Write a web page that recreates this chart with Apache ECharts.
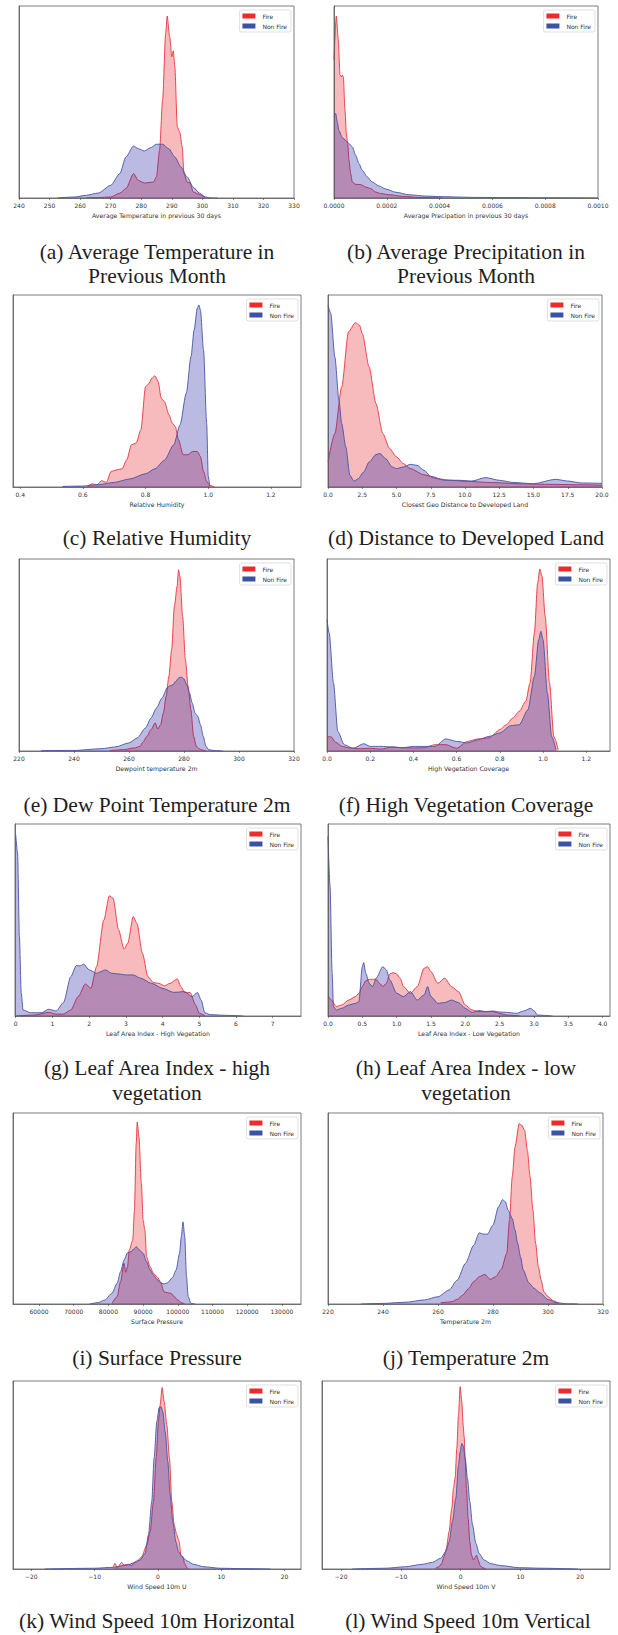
<!DOCTYPE html>
<html lang="en">
<head>
    <meta charset="UTF-8">
    <title>Fire vs Non Fire feature densities</title>
    <script src="https://cdn.jsdelivr.net/npm/echarts@6/dist/echarts.min.js"></script>
    <style>
        * { margin: 0; padding: 0; box-sizing: border-box; }
        body { background: #ffffff; }
        #chart { width: 618px; height: 1635px; }
    </style>
</head>
<body>
    <div id="chart"></div>
    <script type="text/javascript">
        // densities, in arbitrary units (axes top = 100)
        const Y_MAX = 100;

        // (a) average temperature in previous 30 days
        const aFireX = [262, 266, 270, 273, 275, 277.5, 279, 281, 284, 285, 286, 287, 288, 288.5, 289.3, 290, 290.5, 291, 291.8, 292.6, 293.4, 294, 295, 296, 297, 299, 301];
        const aFireY = [0, 0.2, 0.5, 2.5, 4.9, 12.7, 9.2, 7.8, 8.3, 11, 24.9, 51, 85.7, 94.8, 84, 73.6, 76.7, 68.3, 37, 34.4, 26.6, 12.7, 8.3, 7.8, 3.1, 1.9, 0.2];
        const aNonX = [252.5, 258, 262, 266, 270, 273, 275, 277.5, 279, 281, 283, 285, 287, 289, 291, 293, 295, 297, 299, 301, 303, 305];
        const aNonY = [0, 0.5, 1.4, 2.6, 6.6, 12.7, 21.4, 27.1, 25.7, 24.5, 26.1, 28, 28, 25.7, 21.4, 16.2, 11, 5.7, 2.6, 0.5, 0, 0];

        // (b) average precipitation in previous 30 days
        const bFireX = [0, 8.8e-6, 16.4e-6, 22.7e-6, 27.8e-6, 31.6e-6, 35.4e-6, 41.7e-6, 46.7e-6, 51.8e-6, 56.8e-6, 63.1e-6, 69.4e-6, 82.1e-6, 101e-6, 120e-6, 139e-6, 158e-6, 177e-6, 208e-6, 259e-6, 322e-6, 410e-6];
        const bFireY = [71.8, 94.8, 82.3, 64, 63.1, 64, 63.1, 45.7, 33.6, 28.3, 19.7, 12.7, 8.3, 7.1, 7, 5.7, 4.9, 3.1, 2.3, 1.7, 0.9, 0.3, 0];
        const bNonX = [0, 6.3e-6, 12.6e-6, 18.9e-6, 31.6e-6, 44.2e-6, 56.8e-6, 69.4e-6, 82.1e-6, 94.7e-6, 107e-6, 126e-6, 145e-6, 170e-6, 196e-6, 234e-6, 284e-6, 347e-6, 410e-6, 537e-6, 663e-6, 789e-6, 1000e-6];
        const bNonY = [43.1, 44, 39.5, 35, 31.5, 30, 28.3, 26.6, 22.3, 17.9, 14.4, 11, 8.3, 6.3, 4.7, 3, 1.7, 1, 0.7, 0.3, 0.2, 0.1, 0];

        // (c) relative humidity
        const cFireX = [0.615, 0.63, 0.645, 0.66, 0.675, 0.69, 0.71, 0.725, 0.74, 0.755, 0.77, 0.785, 0.8, 0.81, 0.82, 0.83, 0.84, 0.85, 0.86, 0.875, 0.885, 0.895, 0.905, 0.92, 0.935, 0.95, 0.965, 0.975, 0.985, 0.995, 1.005, 1.02];
        const cFireY = [0.3, 1.7, 1.2, 3.3, 2.4, 8.1, 9, 9.5, 14.2, 22, 22.9, 29.8, 52.3, 53.7, 56.7, 57.9, 54.9, 46.3, 44.5, 37.6, 33.3, 31.5, 24.6, 16.8, 16.8, 18.5, 18.5, 15.9, 8.1, 2.9, 0.9, 0];
        const cNonX = [0.535, 0.6, 0.65, 0.7, 0.75, 0.8, 0.83, 0.86, 0.89, 0.91, 0.93, 0.945, 0.955, 0.965, 0.97, 0.975, 0.985, 0.995, 1.0, 1.005];
        const cNonY = [0.3, 0.5, 1.2, 2.4, 4.2, 6.9, 9.5, 13.9, 22, 32.4, 48.9, 67.9, 81.8, 93.1, 94.8, 92.2, 71.4, 33.3, 5.5, 0.3];

        // (d) closest geo distance to developed land
        const dFireX = [0, 0.5, 1, 1.5, 2, 2.3, 2.5, 3, 3.5, 4, 4.5, 5, 5.5, 6, 7, 8, 9, 10, 12, 14, 16, 18, 20];
        const dFireY = [13, 27.8, 52.2, 80.9, 85.6, 84.3, 80, 62.6, 43.5, 27.8, 20, 15.7, 12.2, 9.6, 6.4, 4.3, 3.5, 3, 2.3, 1.7, 1.4, 1.2, 1];
        const dNonX = [0, 0.2, 0.5, 0.8, 1, 1.3, 1.6, 1.9, 2.2, 2.6, 3, 3.5, 3.8, 4.2, 4.7, 5, 5.5, 6, 6.5, 7, 7.5, 8.5, 9.5, 10.5, 11.5, 12.5, 13.5, 15, 16.6, 17.5, 18.5, 20];
        const dNonY = [94.8, 90.4, 67.8, 45.2, 33, 20.9, 6.1, 3, 4.3, 7.8, 13, 16.9, 17.4, 14.8, 10.4, 9.6, 10.4, 11.8, 11.3, 8.7, 5.6, 3.5, 3.5, 3.1, 4.9, 3.5, 2.4, 1.7, 4, 3.1, 2.1, 1.9];

        // (e) dewpoint temperature 2m
        const eFireX = [253, 258, 262, 264, 265, 266.5, 268, 269.5, 270.5, 271.5, 272.5, 273.5, 274.5, 275.5, 276.5, 277.5, 278, 278.5, 279.5, 280.5, 281.5, 282.5, 283.5, 284.5, 286, 288];
        const eFireY = [0.2, 0.7, 1.6, 2.4, 4.5, 7.6, 11.1, 14.6, 11.5, 13.7, 19.8, 28.5, 38.9, 52.8, 75.3, 85.8, 94.4, 91, 70.1, 47.6, 33.7, 21.5, 7.6, 2.4, 0.7, 0];
        const eNonX = [228, 240, 250, 255, 260, 263, 266, 268, 270, 272, 274, 275, 276, 277, 278, 279, 280, 281, 282, 283, 284, 285, 286, 287, 288, 289, 291, 294];
        const eNonY = [0.2, 0.3, 1.2, 2.1, 4.2, 6.8, 12, 17.2, 22.4, 27.6, 33.2, 34, 34.5, 36.3, 38, 38.5, 37.5, 34.5, 30.2, 25, 19.8, 18.1, 13.7, 7.6, 2.4, 0.7, 0.2, 0];

        // (f) high vegetation coverage
        const fFireX = [0, 0.02, 0.04, 0.07, 0.1, 0.15, 0.2, 0.25, 0.3, 0.35, 0.4, 0.45, 0.5, 0.55, 0.6, 0.65, 0.7, 0.75, 0.8, 0.83, 0.86, 0.89, 0.92, 0.94, 0.96, 0.975, 0.985, 0.995, 1.01, 1.03, 1.05, 1.07];
        const fFireY = [7.6, 7.3, 4.5, 2.4, 1.7, 1.2, 1.4, 1, 2.1, 1.7, 1.6, 1.7, 3.3, 3.3, 1.4, 5, 6.3, 6.8, 11.1, 13.7, 17.2, 20.7, 25.9, 35.4, 61.5, 87.5, 94.8, 91, 70.1, 35.4, 7.6, 0.7];
        const fNonX = [0, 0.01, 0.03, 0.05, 0.08, 0.12, 0.17, 0.2, 0.25, 0.3, 0.35, 0.4, 0.45, 0.5, 0.55, 0.6, 0.65, 0.7, 0.75, 0.8, 0.85, 0.89, 0.93, 0.96, 0.98, 0.99, 1.0, 1.02, 1.04, 1.06];
        const fNonY = [68.4, 61.5, 35.4, 10.2, 3.3, 1.4, 3.8, 2.4, 2.4, 2.1, 1.7, 2.4, 2.4, 2.4, 6.3, 5, 4.2, 5.9, 7.6, 9.4, 13.2, 13.7, 21.5, 38.9, 58, 62.3, 58, 30.2, 7.6, 0.7];

        // (g) leaf area index, high vegetation
        const gFireX = [0, 0.5, 0.9, 1.1, 1.3, 1.5, 1.7, 1.9, 2.05, 2.2, 2.4, 2.55, 2.65, 2.8, 2.95, 3.05, 3.2, 3.3, 3.45, 3.6, 3.75, 3.9, 4.05, 4.2, 4.4, 4.5, 4.6, 4.75, 4.9, 5.0, 5.15];
        const gFireY = [0, 0.5, 1.9, 1, 1, 3.1, 10.1, 16.7, 14.4, 25.7, 50.1, 62.6, 61.4, 44.9, 34.8, 37.9, 51.8, 48.3, 32.7, 20.5, 17.4, 17, 15.7, 17, 19.3, 15.3, 12.2, 12.2, 5.7, 1.4, 0.2];
        const gNonX = [0, 0.05, 0.1, 0.15, 0.2, 0.4, 0.7, 0.9, 1.1, 1.3, 1.5, 1.65, 1.75, 1.85, 2.0, 2.2, 2.45, 2.6, 2.8, 3.0, 3.2, 3.4, 3.7, 4.0, 4.3, 4.6, 4.8, 4.95, 5.05, 5.15, 5.3, 5.8, 6.2];
        const gNonY = [94.4, 84.9, 41.4, 11.8, 3.1, 1.7, 1.7, 3.5, 2.6, 7, 20.5, 26.3, 26.1, 27, 24, 22.3, 24, 22.3, 21.9, 21.4, 21.4, 19.7, 17, 14.4, 12.3, 12.7, 10.1, 12.2, 8.3, 1.7, 0.7, 0.3, 0];

        // (h) leaf area index, low vegetation
        const hFireX = [0, 0.05, 0.12, 0.2, 0.3, 0.4, 0.45, 0.5, 0.55, 0.6, 0.7, 0.75, 0.8, 0.85, 0.9, 0.95, 1.0, 1.05, 1.1, 1.2, 1.3, 1.4, 1.45, 1.5, 1.6, 1.7, 1.8, 1.9, 2.0, 2.1, 2.2, 2.3, 2.4, 2.5, 2.6, 2.8];
        const hFireY = [10.4, 8.3, 4.9, 5.7, 8.3, 10.1, 11.8, 15.3, 18.4, 19.1, 19.1, 17, 15.3, 17, 21.9, 22.6, 21.9, 19.7, 15.3, 11.8, 15.3, 24.9, 25.7, 23.1, 17, 19.7, 15.3, 12.7, 5.7, 3.1, 2.3, 2.3, 2.3, 1.4, 0.5, 0];
        const hNonX = [0, 0.03, 0.06, 0.08, 0.12, 0.2, 0.3, 0.4, 0.45, 0.5, 0.52, 0.55, 0.6, 0.65, 0.7, 0.8, 0.85, 0.9, 1.0, 1.1, 1.2, 1.3, 1.4, 1.45, 1.5, 1.6, 1.7, 1.8, 1.9, 2.0, 2.1, 2.2, 2.3, 2.4, 2.5, 2.6, 2.75, 2.85, 2.95, 3.0, 3.05, 3.15, 3.27];
        const hNonY = [93.6, 67.5, 22.3, 4.9, 3.1, 4, 5.7, 6.6, 7.5, 25.7, 27.8, 22.3, 17, 15.3, 19.7, 25.7, 24, 18.8, 11.8, 10.1, 12.7, 8.3, 11, 15.3, 10.1, 6.6, 7, 8.3, 7, 4, 1.9, 2.8, 2.3, 2.6, 2.1, 1.9, 1.4, 2.6, 4, 2.8, 0.5, 0.3, 0];

        // (i) surface pressure
        const iFireX = [81000, 82500, 83500, 84500, 85000, 85500, 86000, 87000, 87500, 88000, 88300, 88800, 89500, 90000, 90500, 91000, 92000, 93000, 94000, 95000, 96000, 97000, 98000, 99000, 100000, 101000, 102000];
        const iFireY = [0.3, 3.8, 11.7, 21.3, 16.6, 19.5, 28.2, 33.4, 49.1, 84, 95.3, 87.5, 63.1, 43.9, 38.7, 24.7, 19.5, 16, 14.3, 11.7, 6.4, 5.9, 5.6, 3.8, 2.1, 0.7, 0];
        const iNonX = [74500, 77000, 79000, 81000, 82500, 83500, 84500, 85500, 86500, 87500, 88000, 89000, 90000, 91000, 92000, 93000, 94000, 95000, 96000, 97000, 98500, 99500, 100500, 101000, 101500, 102000, 102500, 103000, 103800, 105000];
        const iNonY = [0, 0.7, 2.1, 5.6, 10.8, 16.9, 23, 26.8, 27.4, 29.1, 30, 28.2, 26.5, 22.1, 17.8, 15.2, 12.9, 11.1, 10.5, 11.1, 13.9, 17.8, 26.5, 35.2, 43, 35.2, 14.3, 3.8, 0.3, 0];

        // (j) temperature 2m
        const jFireX = [261, 263, 265, 267, 269, 271, 273, 275, 277, 279, 281, 283, 285, 286, 287, 288, 289.5, 290.5, 291.5, 292.5, 293.5, 294.5, 295.5, 296.5, 297.5, 298.5, 300, 302, 304];
        const jFireY = [0.7, 0.9, 1.2, 2.4, 4.7, 7.8, 11.7, 14.3, 15.5, 12.9, 14.3, 18.1, 26.5, 43.9, 66.6, 82.2, 94.4, 93.6, 90.9, 80.5, 66.6, 49.1, 31.7, 19.5, 12.5, 6.4, 3.8, 1.7, 0.3];
        const jNonX = [232, 240, 248, 255, 260, 264, 267, 270, 273, 275, 276.5, 278, 280, 282, 283.5, 284.5, 285.5, 287, 288, 289, 290, 291, 293, 295, 297, 300, 303, 307, 311];
        const jNonY = [0, 0.3, 0.9, 2.1, 3.8, 7.3, 12.5, 21.3, 30.8, 37.3, 36.6, 36.6, 41.3, 50.9, 54.7, 53.5, 49.1, 44.8, 38.7, 31.7, 24.7, 17.8, 11.1, 8.2, 5.9, 2.4, 0.7, 0.1, 0];

        // (k) wind speed 10m U
        const kFireX = [-7.05, -6.79, -6.42, -5.73, -5.36, -4.68, -4.15, -3.62, -3.09, -2.56, -1.77, -1.24, -0.71, -0.29, 0.08, 0.34, 0.66, 0.98, 1.4, 1.82, 2.19, 2.56, 2.98, 3.36, 3.62, 3.94, 4.2, 4.57, 4.83];
        const kFireY = [1.2, 3, 0.7, 3.5, 2.1, 2.5, 1.8, 3.9, 4.8, 6.6, 12.8, 19.9, 35.8, 58.9, 78.4, 87.2, 96.5, 89, 76.6, 58.9, 35.8, 23.4, 18.1, 14.5, 7.4, 6.6, 3, 0.7, 0];
        const kNonX = [-17.89, -9.96, -7.05, -4.94, -3.62, -2.83, -2.03, -1.51, -0.98, -0.61, -0.18, 0.18, 0.5, 0.77, 1.14, 1.56, 1.93, 2.35, 2.83, 3.25, 3.78, 4.57, 5.63, 7.21, 9.85, 13.03, 17.78];
        const kNonY = [0, 0.4, 0.9, 2.1, 3.4, 4.8, 8.3, 18.1, 35.8, 58.9, 78.4, 85.8, 86.3, 83.7, 73, 57.1, 39.4, 25.2, 14.5, 9.2, 6.6, 4.3, 2.5, 1.2, 0.4, 0.2, 0];

        // (l) wind speed 10m V
        const lFireX = [-4.17, -3.61, -3.16, -2.77, -2.38, -1.93, -1.48, -1.2, -0.92, -0.64, -0.36, -0.08, 0.2, 0.42, 0.59, 0.76, 0.98, 1.26, 1.54, 1.82, 2.15, 2.38, 2.66, 2.94, 3.27, 3.66, 4.22];
        const lFireY = [0.4, 1.2, 3, 6.6, 11, 19.9, 32.3, 42.9, 48.2, 64.2, 81.9, 97, 89, 76.6, 70.4, 58.9, 42.9, 26.9, 14.5, 7.4, 4.8, 6, 7.4, 4.8, 1.8, 0.7, 0];
        const lNonX = [-18.15, -12.56, -9.2, -6.41, -4.73, -3.33, -2.49, -1.93, -1.37, -0.81, -0.36, -0.08, 0.2, 0.48, 0.76, 1.15, 1.54, 1.99, 2.55, 3.1, 3.94, 5.06, 6.74, 9.82, 13.73, 19.61];
        const lNonY = [0, 0.4, 1.2, 2.5, 3.5, 5.7, 9.2, 14.5, 25.2, 37.6, 55.3, 62.4, 66.8, 65.1, 58.9, 48.2, 35.8, 23.4, 13.7, 8.3, 4.8, 2.8, 1.8, 0.7, 0.4, 0];

        // tick positions on each x axis
        const aTicks = [240, 250, 260, 270, 280, 290, 300, 310, 320, 330];
        const bTicks = [0, 0.0002, 0.0004, 0.0006, 0.0008, 0.001];
        const cTicks = [0.4, 0.6, 0.8, 1.0, 1.2];
        const dTicks = [0, 2.5, 5, 7.5, 10, 12.5, 15, 17.5, 20];
        const eTicks = [220, 240, 260, 280, 300, 320];
        const fTicks = [0, 0.2, 0.4, 0.6, 0.8, 1.0, 1.2];
        const gTicks = [0, 1, 2, 3, 4, 5, 6, 7];
        const hTicks = [0, 0.5, 1, 1.5, 2, 2.5, 3, 3.5, 4];
        const iTicks = [60000, 70000, 80000, 90000, 100000, 110000, 120000, 130000];
        const jTicks = [220, 240, 260, 280, 300, 320];
        const kTicks = [-20, -10, 0, 10, 20];
        const lTicks = [-20, -10, 0, 10, 20];

        const FIRE_LINE = '#e8343c';
        const FIRE_FILL = 'rgba(230, 30, 40, 0.3)';
        const FIRE_PATCH = '#ee2a2a';
        const NON_LINE = '#4453a6';
        const NON_FILL = 'rgba(30, 25, 160, 0.3)';
        const NON_PATCH = '#3a52a4';

        // layout: [left, top, width, height] of each axes box, caption centre
        const panels = [
            { box: [19, 6, 275, 192],    min: 240, max: 330, ticks: aTicks, dec: 0, xlabel: 'Average Temperature in previous 30 days', fire: [aFireX, aFireY], non: [aNonX, aNonY], caption: '(a) Average Temperature in\nPrevious Month', cap: [157, 264] },
            { box: [334, 6, 264, 192],   min: 0, max: 0.001, ticks: bTicks, dec: 4, xlabel: 'Average Precipation in previous 30 days', fire: [bFireX, bFireY], non: [bNonX, bNonY], caption: '(b) Average Precipitation in\nPrevious Month', cap: [466, 264] },
            { box: [13, 295, 288, 192],  min: 0.377, max: 1.296, ticks: cTicks, dec: 1, xlabel: 'Relative Humidity', fire: [cFireX, cFireY], non: [cNonX, cNonY], caption: '(c) Relative Humidity', cap: [157, 538] },
            { box: [328, 295, 274, 192], min: 0, max: 20, ticks: dTicks, dec: 1, xlabel: 'Closest Geo Distance to Developed Land', fire: [dFireX, dFireY], non: [dNonX, dNonY], caption: '(d) Distance to Developed Land', cap: [466, 538] },
            { box: [19, 559, 275, 192],  min: 220, max: 320, ticks: eTicks, dec: 0, xlabel: 'Dewpoint temperature 2m', fire: [eFireX, eFireY], non: [eNonX, eNonY], caption: '(e) Dew Point Temperature 2m', cap: [157, 805] },
            { box: [327, 559, 283, 192], min: 0, max: 1.31, ticks: fTicks, dec: 1, xlabel: 'High Vegetation Coverage', fire: [fFireX, fFireY], non: [fNonX, fNonY], caption: '(f) High Vegetation Coverage', cap: [466, 805] },
            { box: [15, 824, 286, 192],  min: -0.02, max: 7.77, ticks: gTicks, dec: 0, xlabel: 'Leaf Area Index - High Vegetation', fire: [gFireX, gFireY], non: [gNonX, gNonY], caption: '(g) Leaf Area Index - high\nvegetation', cap: [157, 1080.5] },
            { box: [328, 824, 282, 192], min: 0, max: 4.107, ticks: hTicks, dec: 1, xlabel: 'Leaf Area Index - Low Vegetation', fire: [hFireX, hFireY], non: [hNonX, hNonY], caption: '(h) Leaf Area Index - low\nvegetation', cap: [466, 1080.5] },
            { box: [13, 1113, 288, 191], min: 52500, max: 135500, ticks: iTicks, dec: 0, xlabel: 'Surface Pressure', fire: [iFireX, iFireY], non: [iNonX, iNonY], caption: '(i) Surface Pressure', cap: [157, 1357.5] },
            { box: [328, 1113, 275, 191], min: 220, max: 320, ticks: jTicks, dec: 0, xlabel: 'Temperature 2m', fire: [jFireX, jFireY], non: [jNonX, jNonY], caption: '(j) Temperature 2m', cap: [466, 1357.5] },
            { box: [13, 1381, 288, 188], min: -22.9, max: 22.6, ticks: kTicks, dec: 0, xlabel: 'Wind Speed 10m U', fire: [kFireX, kFireY], non: [kNonX, kNonY], caption: '(k) Wind Speed 10m Horizontal', cap: [157, 1620.5] },
            { box: [322, 1381, 288, 188], min: -23.2, max: 25.0, ticks: lTicks, dec: 0, xlabel: 'Wind Speed 10m V', fire: [lFireX, lFireY], non: [lNonX, lNonY], caption: '(l) Wind Speed 10m Vertical', cap: [468, 1620.5] }
        ];

        const W = 618;
        const AXIS_FONT = 'DejaVu Sans';

        function pairs(xs, ys) {
            return xs.map((x, i) => [x, ys[i]]);
        }

        const grid = [], xAxis = [], yAxis = [], series = [], legend = [], graphic = [];

        panels.forEach((p, i) => {
            const [left, top, width, height] = p.box;
            grid.push({
                left: left, top: top, width: width, height: height,
                show: true, borderColor: '#5a5a5a', borderWidth: 0.8,
                backgroundColor: 'transparent'
            });
            xAxis.push({
                type: 'value', gridIndex: i, min: p.min, max: p.max, z: 5,
                name: p.xlabel, nameLocation: 'middle', nameGap: 14,
                nameTextStyle: { fontSize: 6.2, color: '#333', fontFamily: AXIS_FONT },
                axisLine: { show: true, onZero: false, lineStyle: { color: '#5a5a5a', width: 0.8 } },
                axisTick: { show: true, length: 2, customValues: p.ticks, lineStyle: { color: '#444', width: 0.6 } },
                axisLabel: {
                    customValues: p.ticks, fontSize: 6, margin: 4, color: '#333', fontFamily: AXIS_FONT,
                    formatter: v => v.toFixed(p.dec).replace('-', '\u2212')
                },
                splitLine: { show: false }
            });
            yAxis.push({
                type: 'value', gridIndex: i, min: 0, max: Y_MAX, z: 5,
                axisLine: { show: true, onZero: false, lineStyle: { color: '#5a5a5a', width: 0.8 } },
                axisTick: { show: false }, axisLabel: { show: false }, splitLine: { show: false }
            });
            series.push({
                name: 'Fire', type: 'line', xAxisIndex: i, yAxisIndex: i,
                data: pairs(p.fire[0], p.fire[1]),
                showSymbol: false, smooth: 0.25, smoothMonotone: 'x',
                lineStyle: { color: FIRE_LINE, width: 0.9 },
                itemStyle: { color: FIRE_LINE },
                areaStyle: { color: FIRE_FILL, opacity: 1 },
                z: 2
            });
            series.push({
                name: 'Non Fire', type: 'line', xAxisIndex: i, yAxisIndex: i,
                data: pairs(p.non[0], p.non[1]),
                showSymbol: false, smooth: 0.25, smoothMonotone: 'x',
                lineStyle: { color: NON_LINE, width: 0.9 },
                itemStyle: { color: NON_LINE },
                areaStyle: { color: NON_FILL, opacity: 1 },
                z: 3
            });
            legend.push({
                orient: 'vertical',
                top: top + 4,
                right: W - (left + width) + 3,
                padding: [3, 4, 3, 3],
                itemWidth: 13, itemHeight: 5, itemGap: 4,
                backgroundColor: '#ffffff',
                borderColor: '#d2d2d2', borderWidth: 0.7, borderRadius: 2,
                textStyle: { fontSize: 6, color: '#333', fontFamily: AXIS_FONT, padding: [0, 0, 0, 2] },
                selectedMode: false,
                data: [
                    { name: 'Fire', icon: 'rect', itemStyle: { color: FIRE_PATCH } },
                    { name: 'Non Fire', icon: 'rect', itemStyle: { color: NON_PATCH } }
                ]
            });
            graphic.push({
                type: 'text', x: p.cap[0], y: p.cap[1],
                style: {
                    text: p.caption, align: 'center', verticalAlign: 'middle',
                    fontSize: 21.5, lineHeight: 24.5, fontFamily: 'Liberation Serif',
                    fill: '#1e1e1e'
                }
            });
        });

        const chart = echarts.init(document.getElementById('chart'), null, { renderer: 'svg' });
        chart.setOption({
            animation: false,
            backgroundColor: '#ffffff',
            grid: grid,
            xAxis: xAxis,
            yAxis: yAxis,
            legend: legend,
            series: series,
            graphic: graphic
        });
    </script>
</body>
</html>
